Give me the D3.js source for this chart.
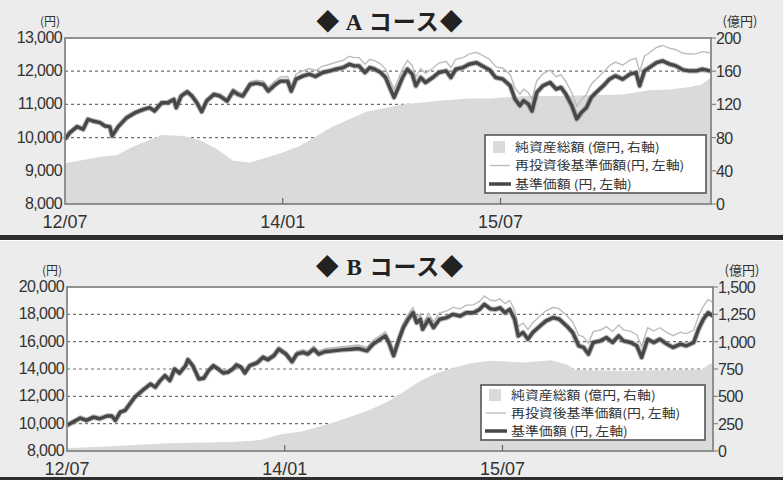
<!DOCTYPE html>
<html lang="ja">
<head>
<meta charset="utf-8"/>
<title>A コース / B コース</title>
<script src="https://cdnjs.cloudflare.com/ajax/libs/d3/7.8.5/d3.min.js"></script>
<style>
  html, body { margin: 0; padding: 0; background: #ffffff; }
  svg { display: block; }
  .tick-lbl { font-family: "Liberation Sans", Arial, sans-serif; fill: #333; }
  .cjk { font-family: "Noto Sans CJK JP", sans-serif; fill: #333; }
</style>
</head>
<body>
<svg id="chart" width="783" height="480"></svg>
<script>
// x positions are months since 2012/07
var xTickMonths = [0, 18, 36];
var xTickLabels = ["12/07", "14/01", "15/07"];
var legendLabels = ["純資産総額 (億円, 右軸)", "再投資後基準価額(円, 左軸)", "基準価額 (円, 左軸)"];

// ---- A コース ----
var aNavMonths = [0,0.4,1.0,1.5,1.9,2.3,2.9,3.3,3.7,3.9,4.4,5.1,5.8,6.5,7.0,7.4,8.0,8.5,9.0,9.2,9.6,10.1,10.5,10.9,11.3,11.7,12.3,12.8,13.4,13.9,14.3,14.7,15.3,15.8,16.4,16.8,17.4,17.8,18.4,18.7,19.1,19.7,20.2,20.7,21.3,21.9,22.4,23.0,23.5,23.9,24.3,24.8,25.2,25.6,26.1,26.5,26.9,27.2,27.5,27.9,28.3,28.7,29.0,29.4,29.8,30.4,30.9,31.5,31.9,32.3,32.9,33.4,34.0,34.5,35.1,35.6,36.2,36.8,37.2,37.6,37.9,38.3,38.6,39.0,39.5,40.1,40.6,41.0,41.4,41.9,42.3,42.7,43.1,43.5,43.9,44.5,45.0,45.5,46.1,46.7,47.2,47.5,47.9,48.3,48.9,49.4,50.0,50.5,51.1,51.6,52.2,52.7,53.3,53.4];
var aNav = [9950,10150,10330,10250,10550,10500,10450,10350,10330,10050,10330,10600,10750,10850,10900,10800,11050,11050,11150,10900,11250,11380,11250,11050,10780,11100,11300,11250,11100,11400,11300,11250,11600,11640,11600,11400,11600,11700,11700,11400,11760,11860,11910,11840,11960,12010,12060,12110,12210,12160,12160,11960,12110,12060,11960,11810,11460,11210,11460,11810,12060,11910,11560,11810,11660,11810,11960,12010,11810,12060,12110,12210,12260,12160,12040,11810,11760,11560,11160,10960,11110,11010,10800,11360,11560,11660,11460,11510,11310,10960,10560,10760,10900,11210,11360,11560,11760,11860,11760,11910,11960,11560,12010,12110,12260,12310,12210,12160,12040,12010,12010,12060,12010,12000];
var aNavReinv = [9950,10150,10335,10255,10560,10510,10460,10365,10345,10065,10350,10620,10775,10875,10930,10830,11085,11085,11190,10940,11295,11430,11300,11105,10835,11160,11360,11315,11170,11475,11375,11330,11685,11730,11700,11510,11720,11830,11840,11540,11910,12020,12080,12020,12150,12210,12270,12330,12450,12410,12410,12210,12360,12315,12215,12065,11715,11465,11720,12070,12325,12175,11830,12080,11935,12090,12245,12300,12105,12360,12410,12515,12570,12475,12360,12135,12090,11895,11500,11305,11455,11360,11150,11715,11920,12030,11835,11890,11690,11345,10950,11150,11295,11610,11760,11965,12170,12275,12180,12335,12390,11990,12450,12555,12715,12775,12690,12650,12540,12520,12530,12590,12555,12550];
var aAssetMonths = [0,1.5,2.9,4.3,5.6,7.0,8.0,9.8,11.1,12.5,13.9,15.3,16.7,18.0,19.4,20.8,22.1,23.5,24.9,26.3,27.9,30.7,33.4,35.1,37.8,40.6,43.4,46.1,48.3,50.0,51.6,52.6,53.4];
var aAssets = [49,53,57,59,69,77,83,82,77,67,52,50,56,62,70,82,93,102,111,115,120,124,127,127,130,130,131,132,137,138,141,144,152];
var aLeftTicks = [8000,9000,10000,11000,12000,13000];
var aRightTicks = [0,40,80,120,160,200];

// ---- B コース ----
var bNavMonths = [0,0.5,1.1,1.6,2.2,2.7,3.3,3.7,4.0,4.4,4.8,5.2,5.6,6.0,6.4,6.9,7.3,7.7,8.1,8.5,8.9,9.3,9.8,10.0,10.4,10.9,11.3,11.7,12.1,12.5,12.9,13.3,13.7,14.0,14.4,14.7,15.1,15.7,16.2,16.6,17.1,17.5,18.1,18.6,19.0,19.5,19.9,20.4,20.8,21.3,22.0,22.7,23.4,24.1,24.8,25.3,25.9,26.3,26.6,27.0,27.4,27.8,28.2,28.6,28.9,29.2,29.4,29.9,30.3,30.8,31.4,31.9,32.5,33.0,33.6,34.1,34.5,35.0,35.4,35.8,36.2,36.6,37.0,37.3,37.7,38.1,38.5,39.1,39.6,40.2,40.7,41.3,41.8,42.3,42.7,43.1,43.5,44.1,44.6,45.1,45.6,46.0,46.6,47.1,47.5,48.0,48.5,49.0,49.6,50.1,50.7,51.2,51.8,52.2,52.6,53.0,53.4];
var bNav = [9880,10120,10410,10240,10480,10360,10560,10560,10240,10850,10970,11450,11940,12250,12550,12900,12670,13150,13520,13150,14000,13700,14240,14680,14240,13270,13320,13880,14240,14000,13710,13760,14000,14290,14120,13710,14240,14440,14850,14680,14970,15450,15090,14530,15090,15210,15090,15450,15090,15260,15330,15400,15450,15500,15330,15820,16180,16420,15940,14970,16060,17030,17640,18120,17390,17640,16910,17640,17030,17640,17760,18000,17880,18120,18120,18360,18730,18400,18360,18480,18120,18360,17640,16420,16670,16180,16670,17150,17520,17760,17640,17150,16670,15700,15580,15090,15940,16060,16300,15940,16420,16060,15940,15700,14850,16180,15940,16180,15820,15580,15820,15700,15940,16910,17640,18120,17880];
var bNavReinv = [9880,10125,10420,10255,10500,10385,10590,10595,10280,10895,11020,11500,11995,12310,12615,12970,12745,13230,13600,13235,14090,13795,14340,14780,14345,13380,13435,14000,14365,14125,13840,13895,14140,14435,14270,13865,14400,14605,15020,14855,15150,15630,15280,14725,15290,15415,15300,15665,15310,15485,15560,15640,15700,15760,15600,16100,16470,16720,16245,15280,16380,17370,18000,18500,17780,18040,17320,18060,17460,18100,18250,18510,18410,18670,18690,18950,19340,19030,19000,19130,18780,19030,18320,17110,17370,16890,17390,17880,18260,18510,18395,17910,17440,16475,16360,15875,16730,16855,17100,16740,17225,16865,16750,16515,15670,17010,16775,17020,16665,16435,16690,16590,16850,17840,18590,19090,18880];
var bAssetMonths = [0,4,8.3,13.7,16,17.6,19.5,22.3,25,26.5,27.8,29.2,30.5,31.9,33.3,35,37.7,40,41.4,42,46,50,52.5,53,53.4];
var bAssets = [25,45,70,82,100,150,180,270,375,450,540,640,710,760,800,825,810,830,790,740,735,740,745,790,805];
var bLeftTicks = [8000,10000,12000,14000,16000,18000,20000];
var bRightTicks = [0,250,500,750,1000,1250,1500];

var svg = d3.select("#chart");

function drawPanel(p) {
  var g = svg.append("g");
  var x = d3.scaleLinear().domain([0, 53.4]).range([p.x0, p.x1]);
  var yL = d3.scaleLinear().domain(d3.extent(p.leftTicks)).range([p.y1, p.y0]);
  var yR = d3.scaleLinear().domain(d3.extent(p.rightTicks)).range([p.y1, p.y0]);

  // panel background + plot area
  g.append("rect").attr("x", 0).attr("y", p.top).attr("width", 783).attr("height", p.h).attr("fill", "#ececec");
  g.append("rect").attr("x", p.x0).attr("y", p.y0).attr("width", p.x1 - p.x0).attr("height", p.y1 - p.y0).attr("fill", "#fff");

  // dashed grid at inner left ticks
  g.selectAll(".grid").data(p.leftTicks.slice(1, -1)).enter().append("line")
    .attr("x1", p.x0).attr("x2", p.x1)
    .attr("y1", function(d) { return yL(d); }).attr("y2", function(d) { return yL(d); })
    .attr("stroke", "#6f6f6f").attr("stroke-width", 1.2).attr("stroke-dasharray", "3,3");

  // net assets area (right axis)
  var area = d3.area()
    .x(function(d, i) { return x(p.assetMonths[i]); })
    .y0(p.y1)
    .y1(function(d) { return yR(d); });
  g.append("path").datum(p.assets).attr("d", area).attr("fill", "#dadada");

  var line = d3.line()
    .x(function(d, i) { return x(p.navMonths[i]); })
    .y(function(d) { return yL(d); });
  g.append("path").datum(p.navReinv).attr("d", line)
    .attr("fill", "none").attr("stroke", "#bdbdbd").attr("stroke-width", 1.4);
  g.append("path").datum(p.nav).attr("d", line)
    .attr("fill", "none").attr("stroke", "#8a8a8a").attr("stroke-width", 5.5).attr("stroke-linejoin", "round").attr("opacity", 0.6);
  g.append("path").datum(p.nav).attr("d", line)
    .attr("fill", "none").attr("stroke", "#474747").attr("stroke-width", 3.4).attr("stroke-linejoin", "round");

  // frame
  g.append("rect").attr("x", p.x0).attr("y", p.y0).attr("width", p.x1 - p.x0).attr("height", p.y1 - p.y0)
    .attr("fill", "none").attr("stroke", "#878787").attr("stroke-width", 1.8);

  // left axis labels
  g.selectAll(".yl").data(p.leftTicks).enter().append("text")
    .attr("class", "tick-lbl").attr("font-size", 16).attr("text-anchor", "end")
    .attr("x", p.x0 - 3).attr("y", function(d) { return yL(d) + 5; })
    .attr("letter-spacing", -0.6)
    .text(function(d) { return d3.format(",")(d); });

  // right axis ticks + labels
  g.selectAll(".rt").data(p.rightTicks).enter().append("line")
    .attr("x1", p.x1).attr("x2", p.x1 + 5)
    .attr("y1", function(d) { return yR(d); }).attr("y2", function(d) { return yR(d); })
    .attr("stroke", "#878787").attr("stroke-width", 1.2);
  g.selectAll(".yr").data(p.rightTicks).enter().append("text")
    .attr("class", "tick-lbl").attr("font-size", 16)
    .attr("x", p.x1 + 5).attr("y", function(d) { return yR(d) + 6; })
    .attr("letter-spacing", -0.6)
    .text(function(d) { return d3.format(",")(d); });

  // x ticks + labels
  g.selectAll(".xt").data(xTickMonths.slice(1)).enter().append("line")
    .attr("x1", function(d) { return x(d); }).attr("x2", function(d) { return x(d); })
    .attr("y1", p.y1).attr("y2", p.y1 - 6)
    .attr("stroke", "#666").attr("stroke-width", 1.2);
  g.selectAll(".xl").data(xTickMonths).enter().append("text")
    .attr("class", "tick-lbl").attr("font-size", 18).attr("text-anchor", "middle")
    .attr("x", function(d) { return x(d); }).attr("y", p.y1 + 24)
    .text(function(d, i) { return xTickLabels[i]; });

  // unit labels
  g.append("text").attr("class", "cjk").attr("font-size", 12).attr("text-anchor", "middle")
    .attr("x", p.x0 - 15).attr("y", p.y0 - 12).text("(円)");
  g.append("text").attr("class", "cjk").attr("font-size", 13).attr("text-anchor", "middle")
    .attr("x", p.x1 + 29).attr("y", p.y0 - 12).text("(億円)");

  // title
  g.append("text").attr("x", 390).attr("y", p.titleY)
    .attr("text-anchor", "middle").attr("font-size", 23).attr("font-weight", "bold")
    .attr("letter-spacing", 1)
    .attr("font-family", "'Liberation Serif', 'Noto Sans CJK JP', serif").attr("fill", "#222")
    .text(p.title);

  // legend
  var lg = g.append("g").attr("transform", "translate(" + p.lx + "," + p.ly + ")");
  lg.append("rect").attr("width", p.lw).attr("height", p.lh)
    .attr("fill", "#fff").attr("stroke", "#555").attr("stroke-width", 1.6);
  lg.append("rect").attr("x", 8).attr("y", p.rows[0] - 6).attr("width", 12).attr("height", 12).attr("fill", "#dadada");
  lg.append("line").attr("x1", 5).attr("x2", 25).attr("y1", p.rows[1]).attr("y2", p.rows[1])
    .attr("stroke", "#bdbdbd").attr("stroke-width", 1.4);
  lg.append("line").attr("x1", 4).attr("x2", 26).attr("y1", p.rows[2]).attr("y2", p.rows[2])
    .attr("stroke", "#474747").attr("stroke-width", 3.5);
  lg.selectAll(".lt").data(legendLabels).enter().append("text")
    .attr("class", "cjk").attr("font-size", 12.2)
    .attr("transform", function(d, i) { return "translate(30," + (p.rows[i] + 4.5) + ") scale(1.14,1)"; })
    .text(function(d) { return d; });
}

drawPanel({
  top: 0, h: 236, x0: 65, x1: 711, y0: 38, y1: 204, titleY: 30, title: "◆ A コース◆",
  navMonths: aNavMonths, nav: aNav, navReinv: aNavReinv,
  assetMonths: aAssetMonths, assets: aAssets,
  leftTicks: aLeftTicks, rightTicks: aRightTicks,
  lx: 485, ly: 135, lw: 221, lh: 58, rows: [12, 30.5, 49]
});
drawPanel({
  top: 241, h: 236, x0: 67, x1: 713, y0: 287, y1: 451, titleY: 275, title: "◆ B コース◆",
  navMonths: bNavMonths, nav: bNav, navReinv: bNavReinv,
  assetMonths: bAssetMonths, assets: bAssets,
  leftTicks: bLeftTicks, rightTicks: bRightTicks,
  lx: 481, ly: 385, lw: 224, lh: 55, rows: [10, 28, 46]
});

// separators
svg.append("rect").attr("x", 0).attr("y", 235).attr("width", 783).attr("height", 5).attr("fill", "#2e2e2e");
svg.append("rect").attr("x", 0).attr("y", 477).attr("width", 783).attr("height", 3).attr("fill", "#2e2e2e");
</script>
</body>
</html>
